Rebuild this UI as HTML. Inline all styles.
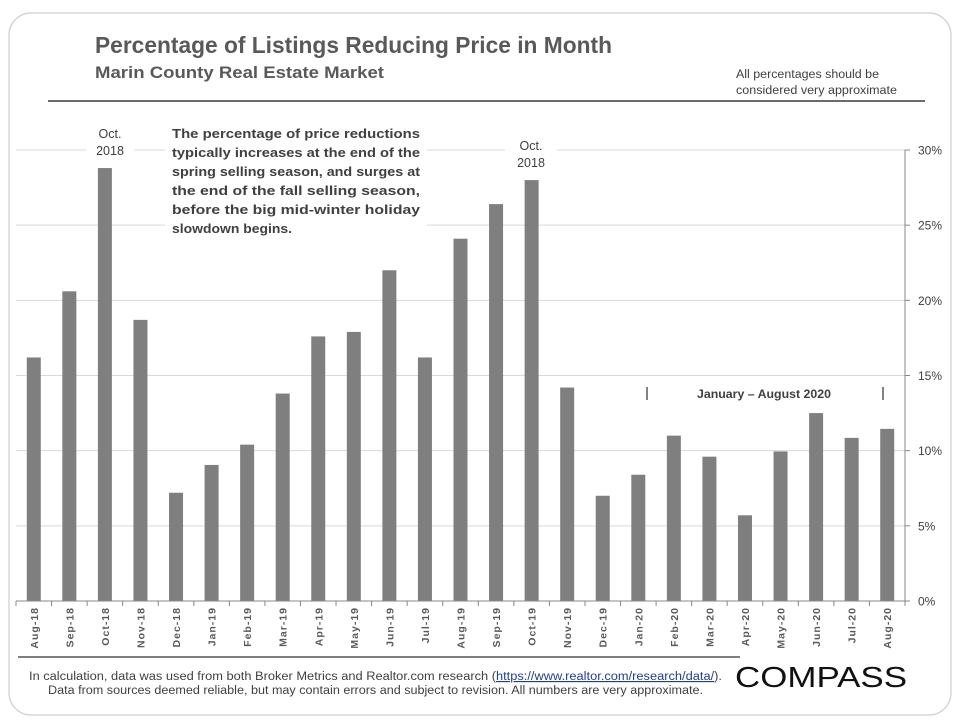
<!DOCTYPE html>
<html><head><meta charset="utf-8"><style>
body{margin:0;background:#fff;width:960px;height:720px;overflow:hidden;font-family:"Liberation Sans",sans-serif;}
svg text{font-family:"Liberation Sans",sans-serif;}
</style></head><body>
<svg id="chart" width="960" height="720" viewBox="0 0 960 720">
<rect x="9" y="13" width="942" height="702" rx="22" fill="none" stroke="#cfcfcf" stroke-width="1.2"/>
<text x="95" y="53" font-size="23" font-weight="bold" fill="#595959" textLength="517" lengthAdjust="spacingAndGlyphs">Percentage of Listings Reducing Price in Month</text>
<text x="95" y="78" font-size="17" font-weight="bold" fill="#595959" textLength="289" lengthAdjust="spacingAndGlyphs">Marin County Real Estate Market</text>
<text font-size="11.5" fill="#404040"><tspan x="736" y="78" textLength="143" lengthAdjust="spacingAndGlyphs">All percentages should be</tspan><tspan x="736" y="94" textLength="161" lengthAdjust="spacingAndGlyphs">considered very approximate</tspan></text>
<line x1="48" y1="101" x2="925" y2="101" stroke="#6b6b6b" stroke-width="2"/>
<g id="grid"></g>
<g id="bars"></g>
<g id="axes"></g>
<g>
<rect x="86" y="122" width="48" height="36" fill="#fff"/>
<text x="110" y="138" font-size="12.5" fill="#404040" text-anchor="middle"><tspan x="110">Oct.</tspan><tspan x="110" dy="17">2018</tspan></text>
<rect x="165" y="122" width="262" height="120" fill="#fff"/>
<text font-size="13" font-weight="bold" fill="#404040">
<tspan x="172" y="138" textLength="248" lengthAdjust="spacingAndGlyphs">The percentage of price reductions</tspan>
<tspan x="172" y="157" textLength="248" lengthAdjust="spacingAndGlyphs">typically increases at the end of the</tspan>
<tspan x="172" y="176" textLength="248" lengthAdjust="spacingAndGlyphs">spring selling season, and surges at</tspan>
<tspan x="172" y="195" textLength="248" lengthAdjust="spacingAndGlyphs">the end of the fall selling season,</tspan>
<tspan x="172" y="214" textLength="248" lengthAdjust="spacingAndGlyphs">before the big mid-winter holiday</tspan>
<tspan x="172" y="233" textLength="120" lengthAdjust="spacingAndGlyphs">slowdown begins.</tspan></text>
<rect x="505" y="135" width="52" height="36" fill="#fff"/>
<text x="531" y="150" font-size="12.5" fill="#404040" text-anchor="middle"><tspan x="531">Oct.</tspan><tspan x="531" dy="17">2018</tspan></text>
<text x="764" y="398" font-size="12" font-weight="bold" fill="#404040" text-anchor="middle" textLength="134" lengthAdjust="spacingAndGlyphs">January – August 2020</text>
<line x1="647" y1="387" x2="647" y2="400" stroke="#404040" stroke-width="1.3"/>
<line x1="883" y1="387" x2="883" y2="400" stroke="#404040" stroke-width="1.3"/>
</g>
<line x1="18" y1="657" x2="740" y2="657" stroke="#7f7f7f" stroke-width="2"/>
<text x="29" y="680" font-size="11.5" fill="#404040" textLength="693" lengthAdjust="spacingAndGlyphs">In calculation,  data was used from both Broker Metrics and Realtor.com research (<tspan fill="#1f3f8f" text-decoration="underline">https://www.realtor.com/research/data/</tspan>).</text>
<text x="48" y="694" font-size="11.5" fill="#404040" textLength="655" lengthAdjust="spacingAndGlyphs">Data from sources deemed reliable, but may contain errors and subject to revision.  All numbers are very approximate.</text>
<text x="735" y="687" font-size="29" fill="#111" textLength="172" lengthAdjust="spacingAndGlyphs">COMPASS</text>
</svg>
<script>
const categories=["Aug-18","Sep-18","Oct-18","Nov-18","Dec-18","Jan-19","Feb-19","Mar-19","Apr-19","May-19","Jun-19","Jul-19","Aug-19","Sep-19","Oct-19","Nov-19","Dec-19","Jan-20","Feb-20","Mar-20","Apr-20","May-20","Jun-20","Jul-20","Aug-20"];
const values=[16.2,20.6,28.8,18.7,7.2,9.05,10.4,13.8,17.6,17.9,22.0,16.2,24.1,26.4,28.0,14.2,7.0,8.4,11.0,9.6,5.7,9.95,12.5,10.85,11.45];
const yTicks=[0,5,10,15,20,25,30];
const NS="http://www.w3.org/2000/svg";
const X0=16,X1=905,Y0=601,Y1=150,YMAX=30;
const band=(X1-X0)/categories.length;
function xc(i){return X0+band*(i+0.5);}
function y(v){return Y0-(v/YMAX)*(Y0-Y1);}
function mk(tag,attrs,parent){const e=document.createElementNS(NS,tag);for(const k in attrs)e.setAttribute(k,attrs[k]);parent.appendChild(e);return e;}
const grid=document.getElementById('grid'),bars=document.getElementById('bars'),axes=document.getElementById('axes');
yTicks.forEach(t=>{
  if(t>0){const g=mk('line',{x1:X0,x2:X1,y1:y(t),y2:y(t),stroke:'#d9d9d9','stroke-width':1},grid);
  
  }
  const tk=mk('line',{x1:X1,x2:X1+5,y1:y(t),y2:y(t),stroke:'#888'},axes);
  
  
  const lb=mk('text',{x:X1+13,y:y(t)+4.5,'font-size':12,fill:'#404040'},axes);
  lb.textContent=t+'%';
  
  
});
values.forEach((v,i)=>{
  const r=mk('rect',{x:xc(i)-7,y:y(v),width:14,height:Y0-y(v),fill:'#7f7f7f'},bars);
  
  
});
const ax=mk('line',{x1:X0,x2:X1,y1:Y0,y2:Y0,stroke:'#888'},axes);


const ay=mk('line',{x1:X1,x2:X1,y1:Y1,y2:Y0,stroke:'#888'},axes);


for(let i=0;i<=categories.length;i++){
  const t=mk('line',{x1:X0+band*i,x2:X0+band*i,y1:Y0,y2:Y0+5,stroke:'#888'},axes);
  
  
}
categories.forEach((c,i)=>{
  const t=mk('text',{x:0,y:0,'font-size':10.5,'font-weight':'bold',fill:'#595959','text-anchor':'end','letter-spacing':'1',transform:`translate(${xc(i)+4},607) rotate(-90)`},axes);
  t.textContent=c;
  
  
});
</script>
</body></html>
